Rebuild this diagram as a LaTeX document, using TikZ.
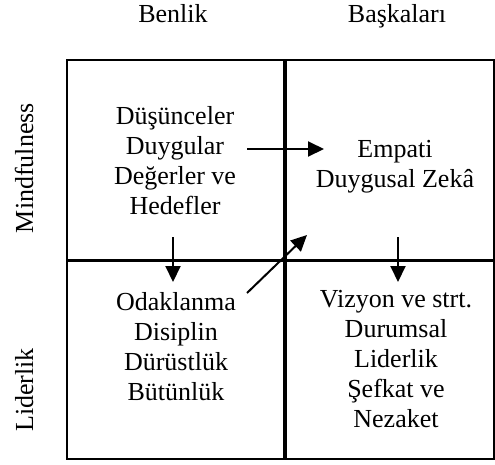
\documentclass[tikz,border=0pt]{standalone}
\usepackage{fontspec}
\setmainfont{Liberation Serif}
\usetikzlibrary{arrows.meta}

\begin{document}
\begin{tikzpicture}[x=1pt,y=-1pt,
		txt/.style={align=center,inner sep=0pt,font=\fontsize{26}{30}\selectfont},
		pijl/.style={line width=2pt,-{Triangle[length=16pt,width=15pt]}}]
			\useasboundingbox (0,0) rectangle (495,464);
			% frame and quadrants
			\draw[line width=2pt] (67,60) rectangle (494,459);
			\draw[line width=2.5pt] (67,260.5)--(494,260.5);
			\draw[line width=3.5pt] (285,60)--(285,459);
			% headings
			\node[txt,anchor=base] (benlik) at (173,22.5){Benlik};
			\node[txt,anchor=base] (baskalari) at (397,22.5){Başkaları};
			\node[txt,rotate=90,anchor=base] (mind) at (33,168){Mindfulness};
			\node[txt,rotate=90,anchor=base] (lider) at (33,390){Liderlik};
			% quadrant texts
			\node[txt] (dusunce) at (175,161){Düşünceler\\Duygular\\Değerler ve\\Hedefler};
			\node[txt] (empati) at (395,167){Empati\\Duygusal Zekâ};
			\node[txt] (odak) at (176,347){Odaklanma\\Disiplin\\Dürüstlük\\Bütünlük};
			\node[txt] (vizyon) at (396,359){Vizyon ve strt.\\Durumsal\\Liderlik\\Şefkat ve\\Nezaket};
			% arrows
			\coordinate (h0) at (247,149);
			\coordinate (h1) at (324,149);
			\coordinate (l0) at (173,237);
			\coordinate (l1) at (173,282);
			\coordinate (r0) at (398,237);
			\coordinate (r1) at (398,282);
			\coordinate (d0) at (247,293);
			\coordinate (d1) at (307,235);
			\draw[pijl] (h0)--(h1);
			\draw[pijl] (l0)--(l1);
			\draw[pijl] (r0)--(r1);
			\draw[pijl] (d0)--(d1);
		\end{tikzpicture}
\end{document}
